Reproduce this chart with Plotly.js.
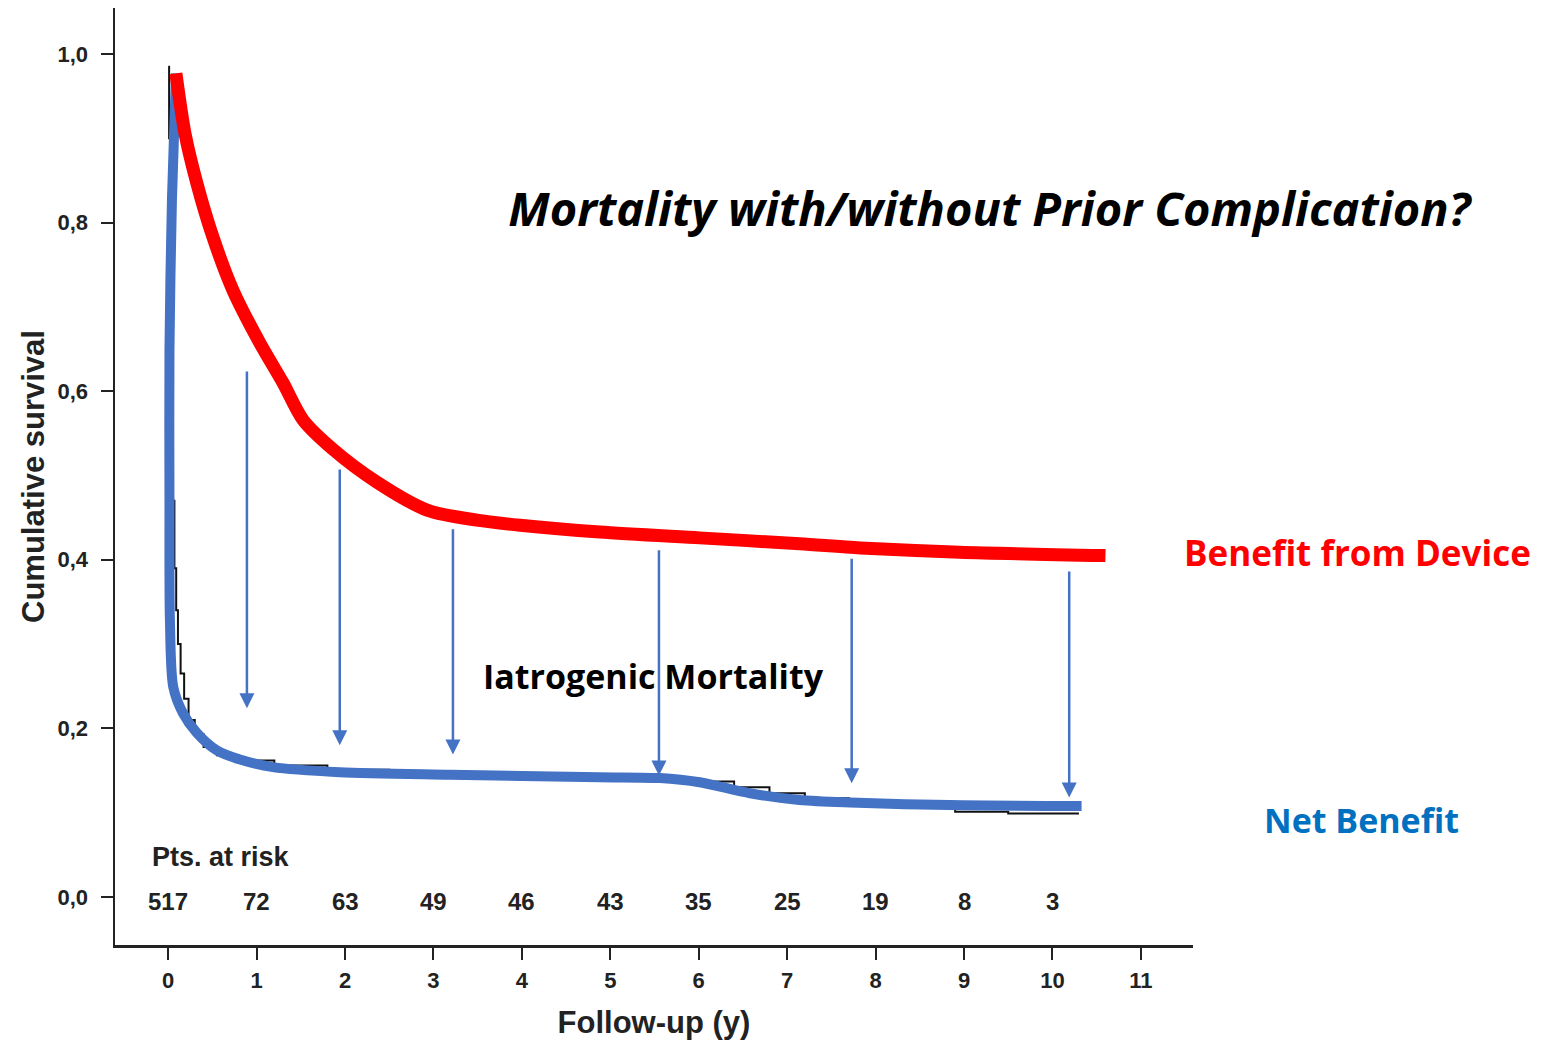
<!DOCTYPE html>
<html>
<head>
<meta charset="utf-8">
<script src="https://cdn.plot.ly/plotly-3.0.1.min.js"></script>
<style>html,body{margin:0;padding:0;background:#fff;}#chart{width:1550px;height:1040px;}</style>
</head>
<body>
<div id="chart"></div>
<script>
// Upper curve: "Benefit from Device"
const benefitX = [0.087, 0.189, 0.323, 0.505, 0.731, 1.037, 1.298, 1.524, 1.864, 2.361, 2.927, 3.49, 3.98, 4.88, 6.01, 7.14, 7.83, 8.95, 10.6];
const benefitY = [0.977, 0.906, 0.847, 0.783, 0.720, 0.657, 0.610, 0.566, 0.531, 0.492, 0.459, 0.447, 0.441, 0.433, 0.426, 0.419, 0.414, 0.409, 0.405];

// Lower curve: "Net Benefit"
const netX = [0.088, 0.042, 0.014, 0.014, 0.019, 0.057, 0.166, 0.321, 0.548, 0.811, 1.184, 1.94, 3.19, 4.88, 5.56, 6.01, 6.58, 7.14, 7.71, 8.84, 10.33];
const netY = [0.977, 0.827, 0.649, 0.471, 0.329, 0.249, 0.218, 0.195, 0.174, 0.163, 0.154, 0.148, 0.145, 0.142, 0.141, 0.136, 0.123, 0.115, 0.112, 0.109, 0.108];

// Kaplan-Meier step curve underneath
const kmX = [0, 0.01, 0.02, 0.03, 0.05, 0.07, 0.09, 0.11, 0.14, 0.18, 0.23, 0.3, 0.4, 0.55, 0.8, 1.2, 1.8, 2.5, 3.5, 4.5, 5.5, 6.0, 6.4, 6.8, 7.2, 7.7, 8.3, 8.9, 9.5, 10.3];
const kmY = [0.985, 0.9, 0.75, 0.6, 0.47, 0.39, 0.34, 0.30, 0.265, 0.235, 0.21, 0.193, 0.178, 0.168, 0.162, 0.156, 0.151, 0.148, 0.146, 0.144, 0.141, 0.137, 0.130, 0.123, 0.117, 0.113, 0.109, 0.101, 0.099, 0.099];

// Arrows (iatrogenic mortality)
const arrowX = [0.89, 1.94, 3.22, 5.55, 7.73, 10.19];
const arrowTop = [0.625, 0.509, 0.438, 0.413, 0.403, 0.388];
const arrowTip = [0.224, 0.180, 0.169, 0.144, 0.135, 0.118];

// Patients at risk
const riskYears = [0, 1, 2, 3, 4, 5, 6, 7, 8, 9, 10];
const riskCounts = ["517", "72", "63", "49", "46", "43", "35", "25", "19", "8", "3"];

// Axis ticks
const xTicks = [0, 1, 2, 3, 4, 5, 6, 7, 8, 9, 10, 11];
const yTicks = [0, 0.2, 0.4, 0.6, 0.8, 1.0];
const yTickText = ["0,0", "0,2", "0,4", "0,6", "0,8", "1,0"];

const arial = "Liberation Sans, Arial, sans-serif";
const axisFont = {family: arial, size: 22, color: "#222", weight: "bold"};
const calib = "'Open Sans', Lato, sans-serif";

const traces = [
  {x: kmX, y: kmY, mode: "lines", line: {color: "#111", width: 2, shape: "hv"}, hoverinfo: "skip", showlegend: false},
  {x: netX, y: netY, mode: "lines", line: {color: "#4472C4", width: 10, shape: "spline", smoothing: 0.8}, hoverinfo: "skip", showlegend: false},
  {x: benefitX, y: benefitY, mode: "lines", line: {color: "#FF0000", width: 13, shape: "spline", smoothing: 0.8}, hoverinfo: "skip", showlegend: false}
];

const annotations = [];
for (let i = 0; i < arrowX.length; i++) {
  annotations.push({
    x: arrowX[i], y: arrowTip[i], xref: "x", yref: "y",
    ax: arrowX[i], ay: arrowTop[i], axref: "x", ayref: "y",
    text: "", showarrow: true, arrowhead: 2, arrowsize: 1.2, arrowwidth: 2.5, arrowcolor: "#4472C4", standoff: 0
  });
}
for (let i = 0; i < riskYears.length; i++) {
  annotations.push({
    x: riskYears[i], y: -0.005, xref: "x", yref: "y", text: riskCounts[i], showarrow: false,
    xanchor: "center", yanchor: "middle",
    font: {family: arial, size: 24, color: "#222", weight: "bold"}
  });
}
annotations.push({
  x: -0.207, y: 0.047, xref: "x", yref: "y", text: "Pts. at risk", showarrow: false,
  xanchor: "left", yanchor: "middle",
  font: {family: arial, size: 27, color: "#222", weight: "bold"}
});
annotations.push({
  x: 3.54, y: 0.262, xref: "x", yref: "y", text: "Iatrogenic Mortality", showarrow: false,
  xanchor: "left", yanchor: "middle",
  font: {family: calib, size: 34, color: "#000", weight: "bold"}
});
annotations.push({
  x: 0.9898, y: 0.4184, xref: "paper", yref: "paper", text: "Benefit from Device", showarrow: false,
  xanchor: "left", yanchor: "middle",
  font: {family: calib, size: 35, color: "#FF0000", weight: "bold"}
});
annotations.push({
  x: 1.064, y: 0.1334, xref: "paper", yref: "paper", text: "Net Benefit", showarrow: false,
  xanchor: "left", yanchor: "middle",
  font: {family: calib, size: 34, color: "#0070C0", weight: "bold"}
});

const layout = {
  width: 1550, height: 1040,
  margin: {l: 115, r: 357, t: 8, b: 95},
  paper_bgcolor: "#fff", plot_bgcolor: "#fff",
  showlegend: false,
  title: {
    text: "Mortality with/without Prior Complication?",
    x: 0.811, xref: "paper", xanchor: "center",
    y: 1 - 210 / 1040, yref: "container", yanchor: "middle",
    font: {family: calib, size: 47, color: "#000", weight: "bold", style: "italic"}
  },
  xaxis: {
    range: [-0.602, 11.59], showgrid: false, zeroline: false,
    showline: true, linecolor: "#222", linewidth: 2.5,
    ticks: "outside", ticklen: 12, tickwidth: 2, tickcolor: "#222",
    tickvals: xTicks, ticktext: xTicks.map(String), ticklabelstandoff: 2,
    tickfont: axisFont,
    title: {text: "Follow-up (y)", standoff: 20, font: {family: arial, size: 31, color: "#222", weight: "bold"}}
  },
  yaxis: {
    range: [-0.057, 1.0546], showgrid: false, zeroline: false,
    showline: true, linecolor: "#222", linewidth: 2.5,
    ticks: "outside", ticklen: 12, tickwidth: 2, tickcolor: "#222",
    tickvals: yTicks, ticktext: yTickText, ticklabelstandoff: 8,
    tickfont: axisFont,
    title: {text: "Cumulative survival", standoff: 4, font: {family: arial, size: 31, color: "#222", weight: "bold"}}
  },
  annotations: annotations
};

Plotly.newPlot("chart", traces, layout, {staticPlot: true, displayModeBar: false});
</script>
</body>
</html>
